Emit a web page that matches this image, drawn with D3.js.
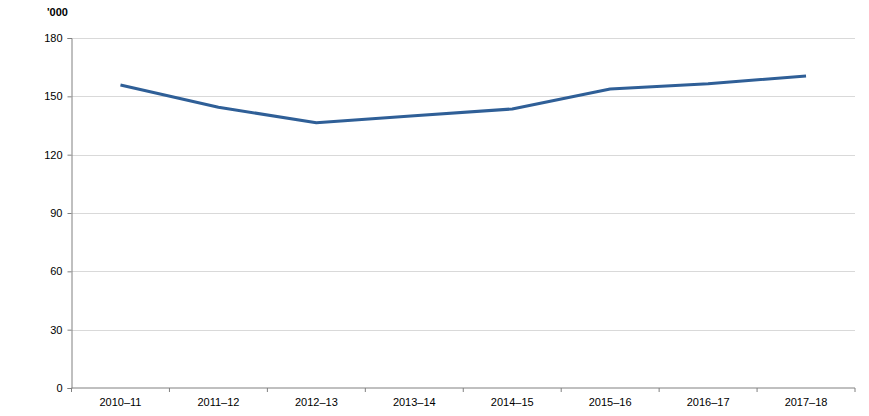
<!DOCTYPE html>
<html>
<head>
<meta charset="utf-8">
<script src="https://cdn.jsdelivr.net/npm/d3@7"></script>
<style>
  body { margin: 0; background: #fff; }
  text { font-family: "Liberation Sans", Arial, sans-serif; }
</style>
</head>
<body>
<div id="chart"></div>
<script>
const years = ['2010–11', '2011–12', '2012–13', '2013–14', '2014–15', '2015–16', '2016–17', '2017–18'];
const values = [155.8, 144.4, 136.4, 140.0, 143.5, 153.8, 156.5, 160.5];
const yTicks = [0, 30, 60, 90, 120, 150, 180];
const unitLabel = "'000";

const W = 869;
const H = 416;
const margin = { t: 38, r: 14, b: 28, l: 71.5 };

const svg = d3.select('#chart').append('svg')
  .attr('width', W)
  .attr('height', H);

const x = d3.scaleBand()
  .domain(years)
  .range([margin.l, W - margin.r]);

const y = d3.scaleLinear()
  .domain([0, 180])
  .range([H - margin.b, margin.t]);

// gridlines
svg.append('g')
  .selectAll('line')
  .data(yTicks.filter(d => d > 0))
  .enter().append('line')
  .attr('x1', margin.l)
  .attr('x2', W - margin.r)
  .attr('y1', d => Math.round(y(d)) + 0.5)
  .attr('y2', d => Math.round(y(d)) + 0.5)
  .style('stroke', '#d9d9d9')
  .style('stroke-width', 1);

// y axis
const yAxis = svg.append('g')
  .attr('transform', `translate(${margin.l}, 0)`)
  .call(d3.axisLeft(y).tickValues(yTicks).tickSize(4).tickPadding(5));

yAxis.select('.domain').style('stroke', '#808080');
yAxis.selectAll('line').style('stroke', '#808080');
yAxis.selectAll('text')
  .style('font-size', '11px')
  .style('fill', '#000');

// x axis
const xAxis = svg.append('g')
  .attr('transform', `translate(0, ${H - margin.b})`)
  .call(d3.axisBottom(x).tickSize(0).tickPadding(10));

xAxis.select('.domain')
  .attr('d', `M${margin.l},0H${W - margin.r}`)
  .style('stroke', '#808080');
xAxis.selectAll('text')
  .style('font-size', '11px')
  .style('fill', '#000');

xAxis.selectAll('.sep')
  .data(d3.range(years.length + 1))
  .enter().append('line')
  .attr('class', 'sep')
  .attr('x1', i => margin.l + i * x.step())
  .attr('x2', i => margin.l + i * x.step())
  .attr('y1', 0)
  .attr('y2', 4)
  .style('stroke', '#808080');

// unit label
svg.append('text')
  .attr('x', 47)
  .attr('y', 16)
  .style('font-size', '11px')
  .style('font-weight', 'bold')
  .text(unitLabel);

// line
const line = d3.line()
  .x((d, i) => x(years[i]) + x.bandwidth() / 2)
  .y(d => y(d));

svg.append('path')
  .datum(values)
  .attr('d', line)
  .style('fill', 'none')
  .style('stroke', '#2f5f97')
  .style('stroke-width', 3)
  .style('stroke-linejoin', 'round');
</script>
</body>
</html>
